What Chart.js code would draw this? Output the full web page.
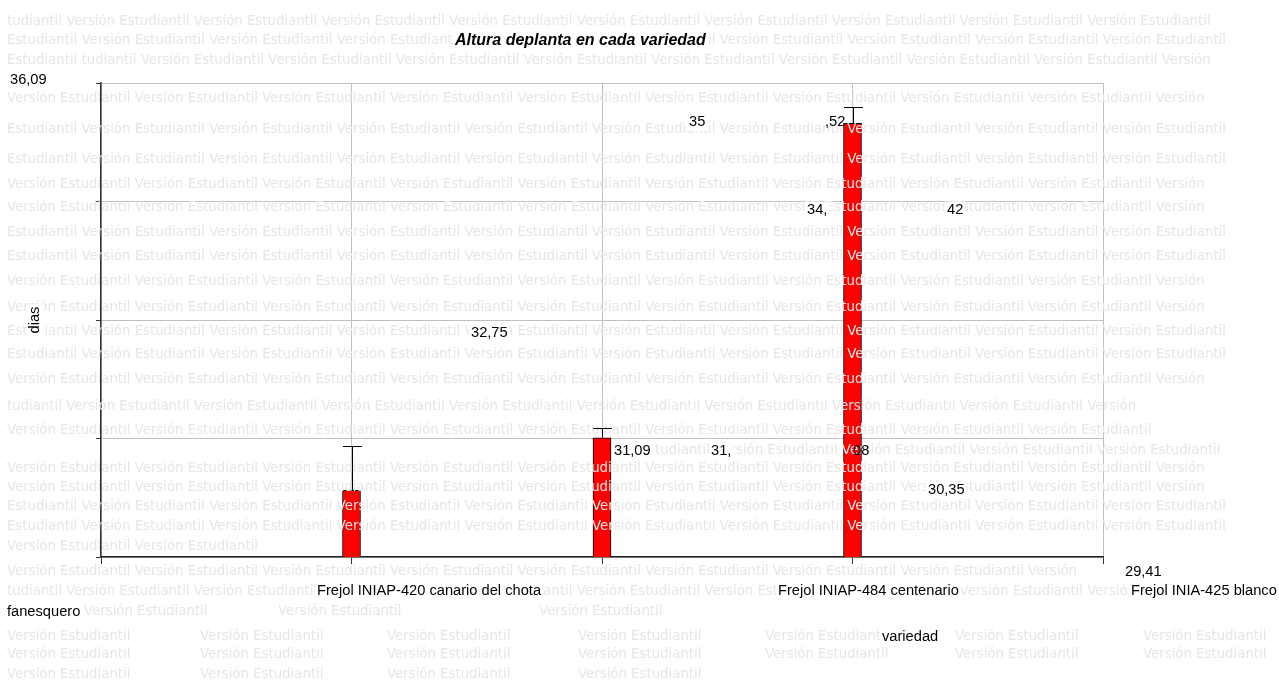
<!DOCTYPE html>
<html>
<head>
<meta charset="utf-8">
<script src="https://cdn.jsdelivr.net/npm/chart.js@4.4.1/dist/chart.umd.min.js"></script>
<style>
  html, body { margin: 0; padding: 0; background: #fff; overflow: hidden; }
  #wrap { position: relative; width: 1279px; height: 681px; }
</style>
</head>
<body>
<div id="wrap"><canvas id="grafico" width="1279" height="681"></canvas></div>
<script>
// datos
const variedades = ['', 'Frejol INIAP-420 canario del chota', 'Frejol INIAP-484 centenario', 'Frejol INIA-425 blanco fanesquero', ''];
const altura = [null, 30.35, 31.09, 35.52, null];
const alturaMax = [null, 30.98, 31.23, 35.75, null]; // extremo superior de la barra de error
const yTicks = [29.41, 31.08, 32.75, 34.42, 36.09];

const titulo = 'Altura deplanta en cada variedad';
const tituloY = 'dias';
const tituloX = 'variedad';
const marca = ['Versión ', 'Estudiantil '];

const fmt = (v) => v.toFixed(2).replace('.', ',');

// dónde cae cada texto (el original los tiene desplazados): [desde, hasta, x, con fondo]
const posDatos = [
  { i: 1, dy: 0, trozos: [[0, 5, 928, true]] },
  { i: 2, dy: 13, trozos: [[0, 5, 614, true]] },
  { i: 3, dy: -1, trozos: [[0, 2, 689, true], [2, 5, 825, false]] },
];
const posTicksY = [
  { i: 4, dy: -3, trozos: [[0, 5, 10, true]] },
  { i: 3, dy: 8, trozos: [[0, 3, 807, true], [3, 5, 947, true]] },
  { i: 2, dy: 13, trozos: [[0, 5, 471, true]] },
  { i: 1, dy: 12, trozos: [[0, 3, 711, true], [3, 5, 853, false]] },
  { i: 0, dy: 15, trozos: [[0, 5, 1125, true]] },
];
const posCategorias = [
  { i: 1, lineas: [[variedades[1], 317, 591]] },
  { i: 2, lineas: [[variedades[2], 778, 591]] },
  { i: 3, lineas: [['Frejol INIA-425 blanco', 1131, 591], ['fanesquero', 7, 612]] },
];

// filas de la marca de agua: [y, x inicial, comienzo, x final]
const filasMarca = [
  [22, 7, 'tudiantil ', 1240], [41, 7, 'Estudiantil ', 1240], [61, 7, 'Estudiantil tudiantil ', 1240],
  [99, 7, 'Versión ', 1240], [130, 7, 'Estudiantil ', 1240], [160, 7, 'Estudiantil ', 1240],
  [185, 7, 'Versión ', 1240], [208, 7, 'Versión ', 1240], [233, 7, 'Estudiantil ', 1240],
  [257, 7, 'Estudiantil ', 1240], [282, 7, 'Versión ', 1240], [308, 7, 'Versión ', 1240],
  [332, 7, 'Estudiantil ', 1240], [355, 7, 'Estudiantil ', 1240], [380, 7, 'Versión ', 1240],
  [407, 7, 'tudiantil ', 1175], [431, 7, 'Versión ', 1200], [451, 655, 'tudiantil ', 1240],
  [469, 7, 'Versión ', 1240], [488, 7, 'Versión ', 1240], [507, 7, 'Estudiantil ', 1240],
  [527, 7, 'Estudiantil ', 1240], [547, 7, 'Versión ', 262], [572, 7, 'Versión ', 1122],
  [592, 7, 'tudiantil ', 1240], [612, 84, 'Versión ', 220], [612, 278, 'Versión ', 420],
  [612, 539, 'Versión ', 680],
];
const columnasMarca = [7, 200, 387, 578, 765, 955, 1143];
const filasColumnas = [[637, 7], [655, 7], [675, 4]];

const FUENTE = '14.67px "Liberation Sans", Arial, sans-serif';

function texto(ctx, s, x, y, fondo) {
  const w = ctx.measureText(s).width;
  if (fondo) {
    ctx.fillStyle = '#fff';
    ctx.fillRect(x - 2, y - 8, w + 4, 16);
  }
  ctx.fillStyle = '#000';
  ctx.fillText(s, x, y);
}

const pluginMarcaAgua = {
  id: 'marcaAgua',
  afterDatasetsDraw(chart) {
    const ctx = chart.ctx;
    ctx.save();
    ctx.font = '13.3px "DejaVu Sans", sans-serif';
    ctx.fillStyle = '#e6e6e6';
    ctx.textBaseline = 'middle';
    for (const [y, x, inicio, fin] of filasMarca) {
      let s = inicio;
      let k = inicio.endsWith('Versión ') ? 1 : 0;
      while (x + ctx.measureText(s + marca[k]).width <= fin + 8) {
        s += marca[k];
        k = 1 - k;
      }
      ctx.fillText(s.trim(), x, y);
    }
    for (const [y, n] of filasColumnas) {
      columnasMarca.slice(0, n).forEach((x) => ctx.fillText(marca[0] + marca[1].trim(), x, y));
    }
    ctx.restore();
  },
};

const pluginErrores = {
  id: 'errores',
  afterDatasetsDraw(chart) {
    const ctx = chart.ctx;
    const y = chart.scales.y;
    const meta = chart.getDatasetMeta(0);
    ctx.save();
    ctx.strokeStyle = '#000';
    ctx.lineWidth = 1;
    altura.forEach((v, i) => {
      if (v == null) return;
      const x = Math.round(meta.data[i].x) + 0.5;
      const y0 = y.getPixelForValue(v);
      const y1 = Math.round(y.getPixelForValue(alturaMax[i])) + 0.5;
      ctx.beginPath();
      ctx.moveTo(x, y0);
      ctx.lineTo(x, y1);
      ctx.moveTo(x - 9.5, y1);
      ctx.lineTo(x + 9.5, y1);
      ctx.stroke();
    });
    ctx.restore();
  },
};

const pluginTextos = {
  id: 'textos',
  afterDraw(chart) {
    const ctx = chart.ctx;
    const y = chart.scales.y;
    ctx.save();
    ctx.textBaseline = 'middle';
    ctx.textAlign = 'left';

    ctx.font = 'italic bold 16px "Liberation Sans", Arial, sans-serif';
    texto(ctx, titulo, 455, 41, true);

    ctx.font = FUENTE;
    for (const p of posDatos) {
      const s = fmt(altura[p.i]);
      const py = y.getPixelForValue(altura[p.i]) + p.dy;
      for (const [a, b, x, f] of p.trozos) texto(ctx, s.slice(a, b), x, py, f);
    }
    for (const p of posTicksY) {
      const s = fmt(yTicks[p.i]);
      const py = y.getPixelForValue(yTicks[p.i]) + p.dy;
      for (const [a, b, x, f] of p.trozos) texto(ctx, s.slice(a, b), x, py, f);
    }
    for (const p of posCategorias) {
      for (const [s, x, py] of p.lineas) texto(ctx, s, x, py, true);
    }
    texto(ctx, tituloX, 882, 637, true);

    ctx.translate(35, 320);
    ctx.rotate(-Math.PI / 2);
    ctx.textAlign = 'center';
    const w = ctx.measureText(tituloY).width;
    ctx.fillStyle = '#fff';
    ctx.fillRect(-w / 2 - 2, -8, w + 4, 16);
    ctx.fillStyle = '#000';
    ctx.fillText(tituloY, 0, 0);
    ctx.restore();
  },
};

new Chart(document.getElementById('grafico'), {
  type: 'bar',
  data: {
    labels: variedades,
    datasets: [{
      data: altura,
      backgroundColor: '#ff0000',
      borderColor: '#000',
      borderWidth: 1,
      barThickness: 18,
    }],
  },
  options: {
    responsive: false,
    animation: false,
    devicePixelRatio: 1,
    layout: { padding: { left: 95, top: 83, right: 176, bottom: 116 } },
    plugins: { legend: { display: false }, tooltip: { enabled: false }, title: { display: false } },
    scales: {
      x: {
        type: 'category',
        offset: false,
        grid: { offset: false, color: '#c0c0c0', tickColor: '#333', tickLength: 7 },
        border: { color: '#222', width: 1.5 },
        ticks: { display: false },
        afterFit: (s) => { s.height = 8; },
      },
      y: {
        min: 29.41,
        max: 36.09,
        afterBuildTicks: (s) => { s.ticks = yTicks.map((v) => ({ value: v })); },
        grid: { color: '#c0c0c0', tickColor: '#333', tickLength: 5 },
        border: { color: '#333', width: 1.5 },
        ticks: { display: false },
        afterFit: (s) => { s.width = 6; },
      },
    },
  },
  plugins: [pluginMarcaAgua, pluginErrores, pluginTextos],
});
</script>
</body>
</html>
